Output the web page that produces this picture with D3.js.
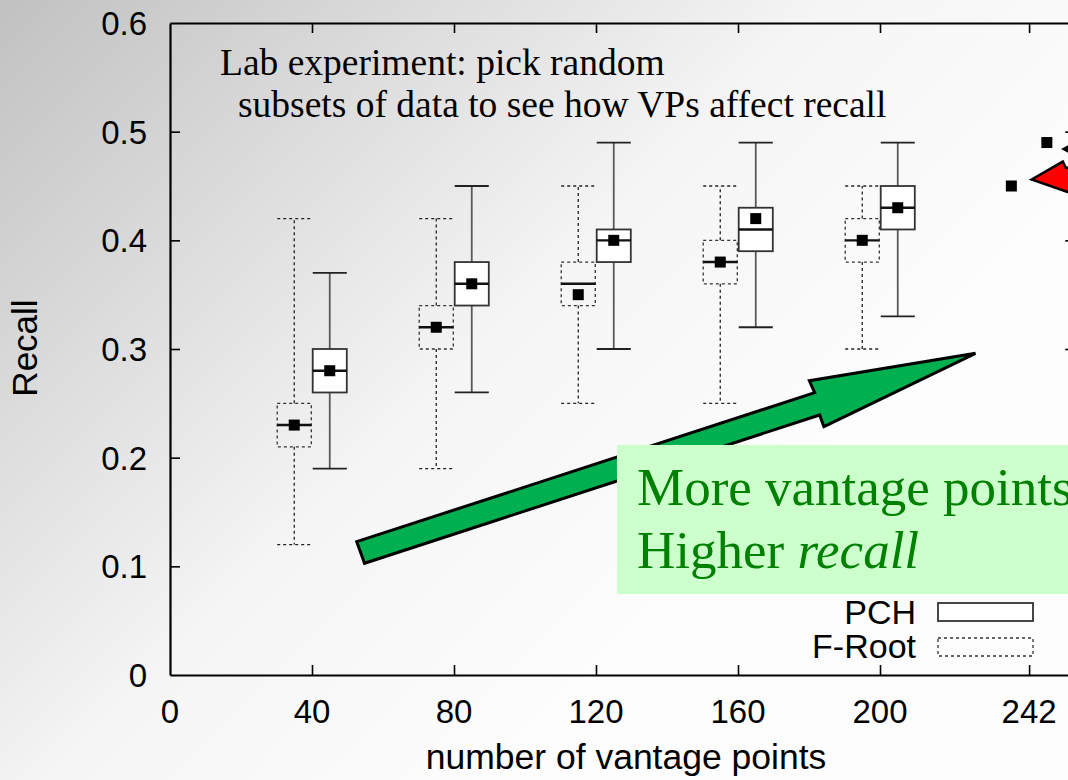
<!DOCTYPE html>
<html>
<head>
<meta charset="utf-8">
<script src="https://cdn.jsdelivr.net/npm/d3@7"></script>
<style>
html,body{margin:0;padding:0;background:#fff;}
svg{display:block;}
</style>
</head>
<body>
<svg id="chart" width="1068" height="780"></svg>
<script>
// ---- data ----
const groups = [40, 80, 120, 160, 200];
const frootX = [35, 75, 115, 155, 195];
const frootMin = [0.12, 0.19, 0.25, 0.25, 0.30];
const frootQ1 = [0.21, 0.30, 0.34, 0.36, 0.38];
const frootMed = [0.23, 0.32, 0.36, 0.38, 0.40];
const frootQ3 = [0.25, 0.34, 0.38, 0.40, 0.42];
const frootMax = [0.42, 0.42, 0.45, 0.45, 0.45];
const frootMean = [0.23, 0.32, 0.35, 0.38, 0.40];

const pchX = [45, 85, 125, 165, 205];
const pchMin = [0.19, 0.26, 0.30, 0.32, 0.33];
const pchQ1 = [0.26, 0.34, 0.38, 0.39, 0.41];
const pchMed = [0.28, 0.36, 0.40, 0.41, 0.43];
const pchQ3 = [0.30, 0.38, 0.41, 0.43, 0.45];
const pchMax = [0.37, 0.45, 0.49, 0.49, 0.49];
const pchMean = [0.28, 0.36, 0.40, 0.42, 0.43];

const fullX = [237, 247];
const fullMean = [0.45, 0.49];

const xTicks = [0, 40, 80, 120, 160, 200, 242];
const yTicks = [0, 0.1, 0.2, 0.3, 0.4, 0.5, 0.6];
const yTickLabels = ["0", "0.1", "0.2", "0.3", "0.4", "0.5", "0.6"];

// annotation shapes (data units)
const greenArrow = [[52.6,0.1227],[181.6,0.2598],[180.1,0.2708],[226.9,0.2960],[184.2,0.2285],[183.0,0.2393],[54.8,0.1028]];
const redArrow = [[242.7,0.456],[251.5,0.4725],[252.4,0.4666],[262,0.472],[262,0.455],[254.5,0.450],[254.2,0.443]];
const blackHead = [[251.0,0.484],[253.6,0.4885],[253.6,0.4795]];
const noteBox = [125.9, 0.2117, 275, 0.0745];

// ---- layout ----
const svg = d3.select("#chart");
const W = 1068, H = 780;
const x = d3.scaleLinear().domain([0, 255]).range([170, 170 + 255 * 3.55]);
const y = d3.scaleLinear().domain([0, 0.6]).range([675, 23]);
const boxW = 9.6;

const defs = svg.append("defs");
const grad = defs.append("linearGradient").attr("id", "bg")
  .attr("gradientUnits", "userSpaceOnUse")
  .attr("x1", 0).attr("y1", 0).attr("x2", 640).attr("y2", 640);
grad.append("stop").attr("offset", 0).attr("stop-color", "#c1c1c1");
grad.append("stop").attr("offset", 0.65).attr("stop-color", "#f5f5f5");
grad.append("stop").attr("offset", 1).attr("stop-color", "#fdfdfd");
svg.append("rect").attr("width", W).attr("height", H).attr("fill", "url(#bg)");

const sans = "'Liberation Sans', Arial, Helvetica, sans-serif";
const serif = "'Liberation Serif', 'Times New Roman', Times, serif";

// ---- axes ----
const [x0, x1] = x.range();
const [yb, yt] = y.range();
const axisG = svg.append("g");
axisG.append("g").attr("transform", `translate(0,${yb})`)
  .call(d3.axisBottom(x).tickValues(xTicks.slice(1)).tickSizeInner(-10).tickSizeOuter(0).tickFormat(""));
axisG.append("g").attr("transform", `translate(0,${yt})`)
  .call(d3.axisTop(x).tickValues(xTicks.slice(1)).tickSizeInner(-10).tickSizeOuter(0).tickFormat(""));
axisG.append("g").attr("transform", `translate(${x0},0)`)
  .call(d3.axisLeft(y).tickValues(yTicks.slice(1, -1)).tickSizeInner(-10).tickSizeOuter(0).tickFormat(""));
axisG.append("g").attr("transform", `translate(${x1},0)`)
  .call(d3.axisRight(y).tickValues(yTicks.slice(1, -1)).tickSizeInner(-10).tickSizeOuter(0).tickFormat(""));
axisG.selectAll(".domain").attr("stroke", "#000").attr("stroke-width", 2.2);
axisG.selectAll(".tick line").attr("stroke", "#000").attr("stroke-width", 1.6);

// tick labels
svg.append("g").selectAll("text").data(xTicks).join("text")
  .attr("x", d => x(d)).attr("y", 723)
  .attr("text-anchor", "middle")
  .attr("font-family", sans).attr("font-size", 33).attr("fill", "#000")
  .text(d => d);
svg.append("g").selectAll("text").data(yTicks).join("text")
  .attr("x", 147).attr("y", d => y(d) + 12)
  .attr("text-anchor", "end")
  .attr("font-family", sans).attr("font-size", 33).attr("fill", "#000")
  .text((d, i) => yTickLabels[i]);

svg.append("text").attr("x", 626).attr("y", 769).attr("text-anchor", "middle")
  .attr("font-family", sans).attr("font-size", 35.5).attr("fill", "#000")
  .text("number of vantage points");
svg.append("text").attr("transform", "translate(37,348) rotate(-90)").attr("text-anchor", "middle")
  .attr("font-family", sans).attr("font-size", 35).attr("fill", "#000")
  .text("Recall");

// ---- boxes ----
function drawBoxes(cls, xs, mn, q1, md, q3, mx, mean, style) {
  const g = svg.append("g").attr("class", cls);
  const rows = xs.map((v, i) => ({x: v, mn: mn[i], q1: q1[i], md: md[i], q3: q3[i], mx: mx[i], mean: mean[i]}));
  const item = g.selectAll("g").data(rows).join("g");
  const L = d => x(d.x - boxW / 2), R = d => x(d.x + boxW / 2), C = d => x(d.x);
  item.append("line").attr("x1", C).attr("x2", C).attr("y1", d => y(d.q3)).attr("y2", d => y(d.mx))
    .attr("stroke", style.wColor).attr("stroke-width", style.lw).attr("stroke-dasharray", style.dash);
  item.append("line").attr("x1", C).attr("x2", C).attr("y1", d => y(d.q1)).attr("y2", d => y(d.mn))
    .attr("stroke", style.wColor).attr("stroke-width", style.lw).attr("stroke-dasharray", style.dash);
  item.append("line").attr("x1", L).attr("x2", R).attr("y1", d => y(d.mx)).attr("y2", d => y(d.mx))
    .attr("stroke", style.cColor).attr("stroke-width", style.lw).attr("stroke-dasharray", style.dash);
  item.append("line").attr("x1", L).attr("x2", R).attr("y1", d => y(d.mn)).attr("y2", d => y(d.mn))
    .attr("stroke", style.cColor).attr("stroke-width", style.lw).attr("stroke-dasharray", style.dash);
  item.append("rect").attr("x", L).attr("width", d => R(d) - L(d))
    .attr("y", d => y(d.q3)).attr("height", d => y(d.q1) - y(d.q3))
    .attr("fill", style.fill).attr("stroke", style.bColor).attr("stroke-width", style.lw)
    .attr("stroke-dasharray", style.dash);
  item.append("line").attr("x1", L).attr("x2", R).attr("y1", d => y(d.md)).attr("y2", d => y(d.md))
    .attr("stroke", "#111").attr("stroke-width", 2.4);
  item.append("rect").attr("x", d => C(d) - 5.5).attr("y", d => y(d.mean) - 5.5)
    .attr("width", 11).attr("height", 11).attr("fill", "#000");
}
drawBoxes("froot", frootX, frootMin, frootQ1, frootMed, frootQ3, frootMax, frootMean,
  {wColor: "#222", cColor: "#222", bColor: "#333", lw: 1.3, dash: "3,3", fill: "none"});
drawBoxes("pch", pchX, pchMin, pchQ1, pchMed, pchQ3, pchMax, pchMean,
  {wColor: "#5a5a5a", cColor: "#222", bColor: "#333", lw: 1.8, dash: null, fill: "#fff"});

// full-dataset mean points
svg.append("g").selectAll("rect").data(fullX).join("rect")
  .attr("x", d => x(d) - 5.5).attr("y", (d, i) => y(fullMean[i]) - 5.5)
  .attr("width", 11).attr("height", 11).attr("fill", "#000");

// ---- legend ----
const legend = [{name: "PCH", dash: null}, {name: "F-Root", dash: "3,3"}];
const lg = svg.append("g");
lg.selectAll("text").data(legend).join("text")
  .attr("x", 916).attr("y", (d, i) => 624 + i * 34).attr("text-anchor", "end")
  .attr("font-family", sans).attr("font-size", 34).attr("fill", "#000").text(d => d.name);
lg.selectAll("rect").data(legend).join("rect")
  .attr("x", 938).attr("y", (d, i) => 603 + i * 35).attr("width", 95).attr("height", 18)
  .attr("fill", (d, i) => i === 0 ? "#fff" : "none").attr("stroke", "#333")
  .attr("stroke-width", (d, i) => i === 0 ? 1.8 : 1.3).attr("stroke-dasharray", d => d.dash);

// ---- annotations ----
const line = d3.line().x(d => x(d[0])).y(d => y(d[1]));
svg.append("path").attr("d", line(greenArrow) + "Z")
  .attr("fill", "#00b050").attr("stroke", "#000").attr("stroke-width", 3).attr("stroke-linejoin", "miter");
svg.append("path").attr("d", line(redArrow) + "Z")
  .attr("fill", "#ff0000").attr("stroke", "#000").attr("stroke-width", 2.5);
svg.append("path").attr("d", line(blackHead) + "Z").attr("fill", "#000");

svg.append("rect").attr("x", x(noteBox[0])).attr("y", y(noteBox[1]))
  .attr("width", x(noteBox[2]) - x(noteBox[0])).attr("height", y(noteBox[3]) - y(noteBox[1]))
  .attr("fill", "#ccffcc");
svg.append("text").attr("x", 637).attr("y", 505)
  .attr("font-family", serif).attr("font-size", 53).attr("fill", "#008000")
  .text("More vantage points");
const t2 = svg.append("text").attr("x", 637).attr("y", 568)
  .attr("font-family", serif).attr("font-size", 53).attr("fill", "#008000");
t2.append("tspan").text("Higher ");
t2.append("tspan").attr("font-style", "italic").text("recall");

svg.append("text").attr("x", 220).attr("y", 75)
  .attr("font-family", serif).attr("font-size", 37.5).attr("fill", "#000")
  .text("Lab experiment: pick random");
svg.append("text").attr("x", 238).attr("y", 117)
  .attr("font-family", serif).attr("font-size", 37.5).attr("fill", "#000")
  .text("subsets of data to see how VPs affect recall");
</script>
</body>
</html>
